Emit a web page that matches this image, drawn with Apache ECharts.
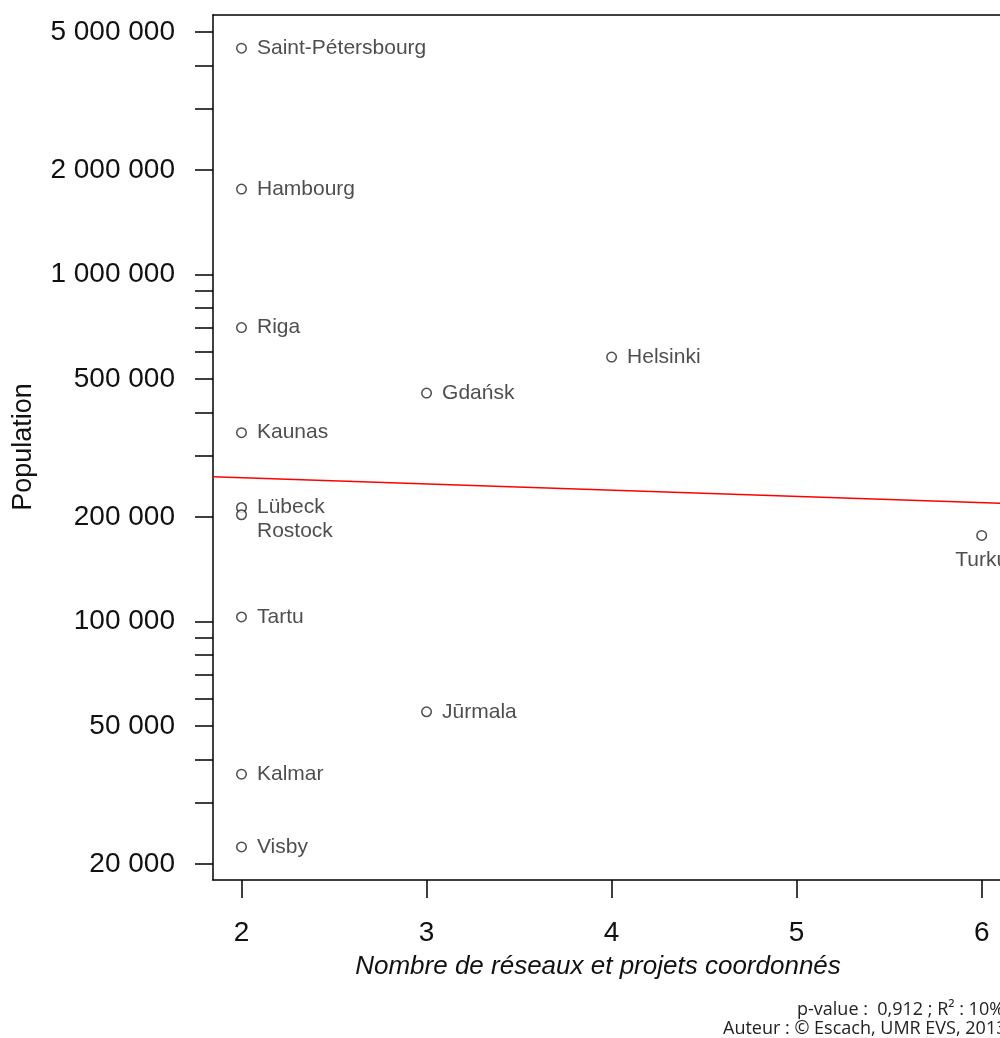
<!DOCTYPE html>
<html>
<head>
<meta charset="utf-8">
<script src="https://cdn.jsdelivr.net/npm/echarts@6/dist/echarts.min.js"></script>
<style>
html,body{margin:0;padding:0;background:#fff;}
#chart{width:1000px;height:1038px;}
</style>
</head>
<body>
<div id="chart"></div>
<script>
// ---- data ----
const cities = ["Saint-Pétersbourg","Hambourg","Riga","Helsinki","Gdańsk","Kaunas","Lübeck","Rostock","Turku","Tartu","Jūrmala","Kalmar","Visby"];
const networks = [2,2,2,4,3,2,2,2,6,2,3,2,2];
const population = [4490000,1762000,703000,578000,455000,350000,213000,203000,177000,103000,54900,36300,22400];
const trendX = [1.846, 6.099];
const trendY = [261000, 219000];
const yLabelValues = [5000000,2000000,1000000,500000,200000,100000,50000,20000];
const yTickValues = [5000000,4000000,3000000,2000000,1000000,900000,800000,700000,600000,500000,400000,300000,200000,100000,90000,80000,70000,60000,50000,40000,30000,20000];
const xTickValues = [2,3,4,5,6];

const fmt = v => String(Math.round(v)).replace(/\B(?=(\d{3})+(?!\d))/g, ' ');

const labelSpecial = {
  "Rostock": {position: 'right', offset: [0, 16]},
  "Turku": {position: 'bottom', distance: 9}
};

const scatterData = cities.map((c, i) => {
  const item = {name: c, value: [networks[i], population[i]]};
  if (labelSpecial[c]) item.label = labelSpecial[c];
  return item;
});

const X_MIN = 1.846, X_MAX = 6.099;
const axisLineStyle = {color: '#000', width: 1.5};

const chart = echarts.init(document.getElementById('chart'), null, {renderer: 'canvas'});
chart.setOption({
  animation: false,
  backgroundColor: '#fff',
  grid: {left: 213, top: 15, right: 0, bottom: 158, show: false, containLabel: false},
  xAxis: [{
    type: 'value', min: X_MIN, max: X_MAX, position: 'bottom',
    axisLine: {show: true, onZero: false, lineStyle: axisLineStyle},
    axisTick: {show: true, length: 18, inside: false, customValues: xTickValues, lineStyle: axisLineStyle},
    axisLabel: {customValues: xTickValues, margin: 39, fontSize: 28, color: '#111', fontFamily: 'Liberation Sans, Arial, sans-serif'},
    splitLine: {show: false}
  }, {
    type: 'value', min: X_MIN, max: X_MAX, position: 'top',
    axisLine: {show: true, onZero: false, lineStyle: axisLineStyle},
    axisTick: {show: false}, axisLabel: {show: false}, splitLine: {show: false}
  }],
  yAxis: {
    type: 'log', logBase: 10, min: 17980, max: 5595000,
    axisLine: {show: true, onZero: false, lineStyle: axisLineStyle},
    axisTick: {show: true, length: 18, inside: false, customValues: yTickValues, lineStyle: axisLineStyle},
    axisLabel: {customValues: yLabelValues, margin: 38, fontSize: 28, color: '#111', fontFamily: 'Liberation Sans, Arial, sans-serif', formatter: fmt},
    splitLine: {show: false},
    minorTick: {show: false}
  },
  series: [
    {
      type: 'line', data: trendX.map((x, i) => [x, trendY[i]]),
      symbol: 'none', lineStyle: {color: '#ff0000', width: 1.5}, silent: true, z: 1
    },
    {
      type: 'scatter', data: scatterData, symbol: 'circle', symbolSize: 9.5,
      itemStyle: {color: '#fff', borderColor: '#222', borderWidth: 1.5},
      label: {show: true, position: 'right', distance: 10, formatter: p => p.name, fontSize: 21, color: '#222', fontFamily: 'Liberation Sans, Arial, sans-serif'},
      z: 3
    }
  ],
  graphic: [
    {type: 'text', x: 598, y: 967, style: {text: 'Nombre de réseaux et projets coordonnés', font: 'italic 26px "Liberation Sans", Arial, sans-serif', fill: '#111', textAlign: 'center', textVerticalAlign: 'middle'}},
    {type: 'text', x: 24, y: 447, rotation: Math.PI / 2, style: {text: 'Population', font: '27px "Liberation Sans", Arial, sans-serif', fill: '#111', textAlign: 'center', textVerticalAlign: 'middle'}},
    {type: 'text', x: 797, y: 1010, style: {text: 'p-value :  0,912 ; R² : 10%', font: '18px "Open Sans", sans-serif', fill: '#222', textAlign: 'left', textVerticalAlign: 'middle'}},
    {type: 'text', x: 723, y: 1029, style: {text: 'Auteur : © Escach, UMR EVS, 2013', font: '18px "Open Sans", sans-serif', fill: '#222', textAlign: 'left', textVerticalAlign: 'middle'}}
  ]
});
</script>
</body>
</html>
